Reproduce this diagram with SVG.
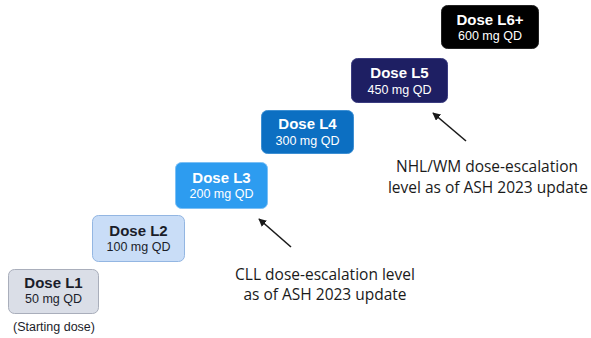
<svg xmlns="http://www.w3.org/2000/svg" width="591" height="338" viewBox="0 0 591 338">
  <style>
    .box { stroke-width: 1; }
    .title { font-family: "Liberation Sans", Arial, sans-serif; font-size: 15px; font-weight: bold; text-anchor: middle; }
    .dose { font-family: "Liberation Sans", Arial, sans-serif; font-size: 12.5px; text-anchor: middle; }
    .dark { fill: #1b1d2a; }
    .light { fill: #ffffff; }
    .note { font-family: "Open Sans", "Liberation Sans", sans-serif; font-size: 15.5px; fill: #1a1a1a; text-anchor: middle; }
    .conn { stroke: #1a1a1a; stroke-width: 1.6; fill: none; marker-end: url(#head); }
  </style>
  <defs>
    <marker id="head" viewBox="0 0 10 10" refX="9" refY="5" markerWidth="5" markerHeight="5" orient="auto">
      <path d="M0,0 L10,5 L0,10 z" fill="#1a1a1a"/>
    </marker>
  </defs>
  <rect width="591" height="338" fill="#ffffff"/>

  <g id="dose-l1">
    <rect class="box" x="8.5" y="269.5" width="90" height="44" rx="6" fill="#dadee7" stroke="#a9aebb"/>
    <text class="title dark" x="53.5" y="288">Dose L1</text>
    <text class="dose dark" x="53.5" y="303">50 mg QD</text>
    <text class="dose dark" x="54" y="331" style="font-size:12.5px">(Starting dose)</text>
  </g>

  <g id="dose-l2">
    <rect class="box" x="92.5" y="215.5" width="92" height="46" rx="6" fill="#c9ddf7" stroke="#93b6e2"/>
    <text class="title dark" x="138.5" y="236">Dose L2</text>
    <text class="dose dark" x="138.5" y="251">100 mg QD</text>
  </g>

  <g id="dose-l3">
    <rect class="box" x="175.5" y="162.5" width="92" height="46" rx="6" fill="#2d9cf0" stroke="#7cc0f5"/>
    <text class="title light" x="221.5" y="183">Dose L3</text>
    <text class="dose light" x="221.5" y="198">200 mg QD</text>
  </g>

  <g id="dose-l4">
    <rect class="box" x="261.5" y="110.5" width="92" height="43" rx="6" fill="#0c6fc2" stroke="#3d8fd3"/>
    <text class="title light" x="307.5" y="129">Dose L4</text>
    <text class="dose light" x="307.5" y="145">300 mg QD</text>
  </g>

  <g id="dose-l5">
    <rect class="box" x="351.5" y="58.5" width="96" height="44" rx="6" fill="#1e1f63" stroke="#3b3c80"/>
    <text class="title light" x="399.5" y="78">Dose L5</text>
    <text class="dose light" x="399.5" y="94">450 mg QD</text>
  </g>

  <g id="dose-l6">
    <rect class="box" x="441.5" y="5.5" width="97" height="43" rx="6" fill="#000000" stroke="#222222"/>
    <text class="title light" x="490" y="25">Dose L6+</text>
    <text class="dose light" x="490" y="40">600 mg QD</text>
  </g>

  <g id="connectors">
    <line class="conn" x1="291" y1="247" x2="259" y2="219"/>
    <line class="conn" x1="466" y1="141" x2="433" y2="113"/>
  </g>

  <g id="note-cll">
    <text class="note" x="325" y="280">CLL dose-escalation level</text>
    <text class="note" x="325" y="300">as of ASH 2023 update</text>
  </g>

  <g id="note-nhl">
    <text class="note" x="487" y="172">NHL/WM dose-escalation</text>
    <text class="note" x="488" y="193">level as of ASH 2023 update</text>
  </g>
</svg>
